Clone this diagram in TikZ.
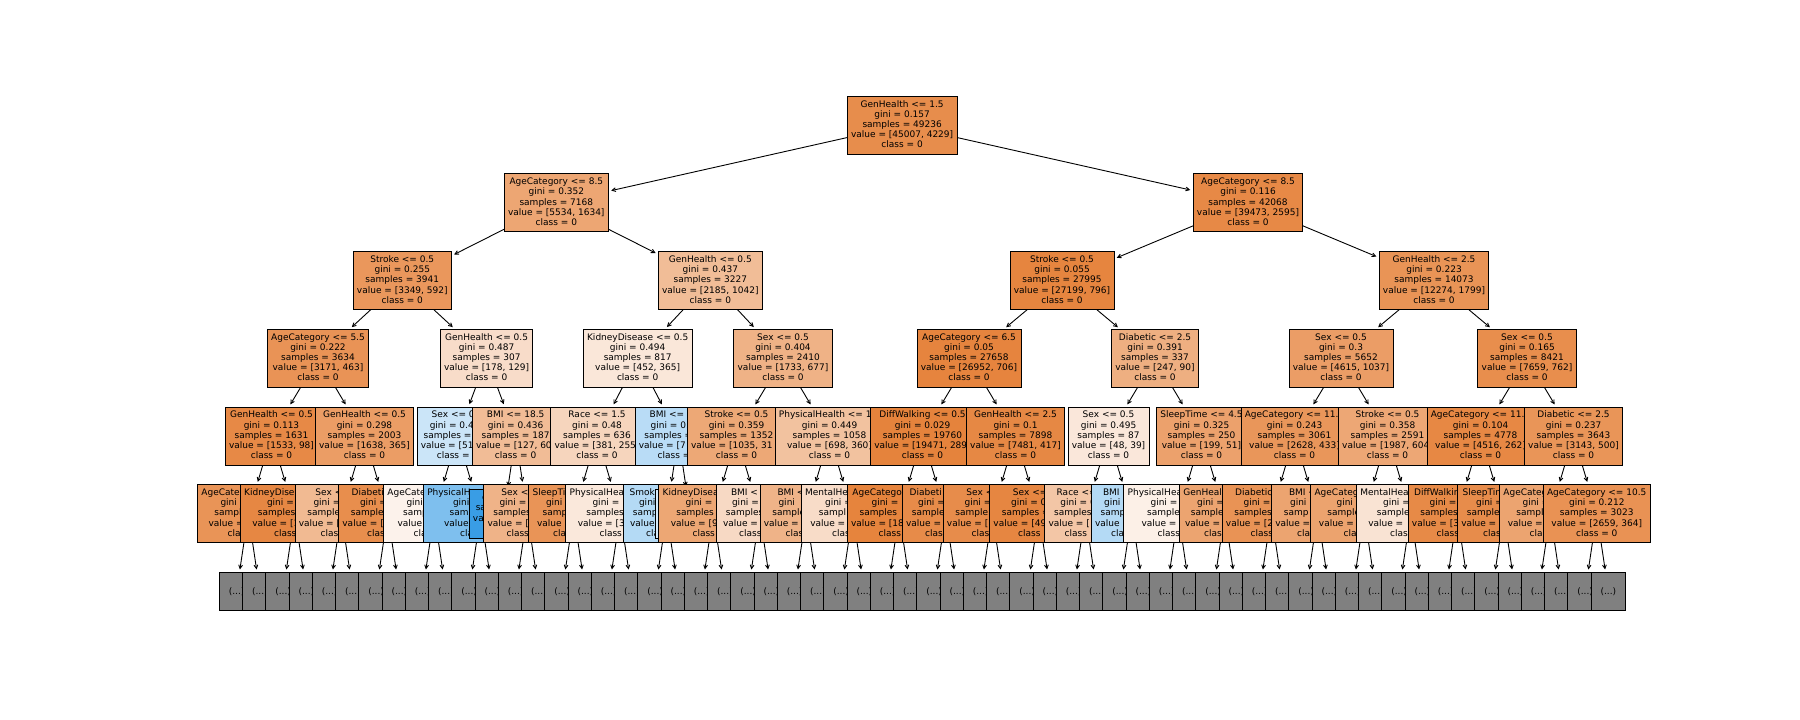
\documentclass[tikz,border=0pt]{standalone}
\usepackage{fontspec}
\setmainfont{DejaVu Sans}
\usetikzlibrary{arrows.meta}
\definecolor{orng}{RGB}{229,129,57}
\definecolor{blu}{RGB}{57,157,229}
\definecolor{grey5}{RGB}{128,128,128}
\newcommand{\hid}[1]{\phantom{#1}}
\newcommand{\fivel}[5]{\rule{0pt}{7pt}#1\\#2\\#3\\#4\\#5\rule[-2.6pt]{0pt}{2.6pt}}
\newcommand{\fourl}[4]{\rule{0pt}{7pt}#1\\#2\\#3\\#4\rule[-2.6pt]{0pt}{2.6pt}}
\newcommand{\ux}[1]{225+23.25*(#1)}
\tikzset{
  tn/.style={draw=black, line width=0.9pt, font=\fontsize{9}{10.2}\selectfont, align=center, inner xsep=3.8pt, inner ysep=0pt, minimum height=58pt},
  lfn/.style={tn, minimum height=48.5pt},
  gr/.style={draw=black, line width=0.9pt, fill=grey5, font=\fontsize{9}{10.2}\selectfont, inner sep=0pt, minimum width=34.6pt, minimum height=38pt},
  arr/.style={-{Straight Barb[length=3.6pt,width=3.8pt]}, line width=0.9pt, shorten >=2.5pt}
}
\begin{document}
\begin{tikzpicture}[x=1pt,y=-1pt]
\fill[white] (0,0) rectangle (1800,720);
\useasboundingbox (0,0) rectangle (1800,720);
% ---------- centre coordinates ----------
\coordinate (cr) at ({\ux{29.125}},125.2);
\coordinate (cd1) at ({\ux{14.25}},202.9);
\coordinate (cd2) at ({\ux{44}},202.9);
\coordinate (cc1) at ({\ux{7.625}},280.6);
\coordinate (cc2) at ({\ux{20.875}},280.6);
\coordinate (cc3) at ({\ux{36}},280.6);
\coordinate (cc4) at ({\ux{52}},280.6);
\coordinate (cb1) at ({\ux{4}},358.3);
\coordinate (cb2) at ({\ux{11.25}},358.3);
\coordinate (cb3) at ({\ux{17.75}},358.3);
\coordinate (cb4) at ({\ux{24}},358.3);
\coordinate (cb5) at ({\ux{32}},358.3);
\coordinate (cb6) at ({\ux{40}},358.3);
\coordinate (cb7) at ({\ux{48}},358.3);
\coordinate (cb8) at ({\ux{56}},358.3);
\coordinate (ca1) at ({\ux{2}},436);
\coordinate (ca2) at ({\ux{6}},436);
\coordinate (ca3) at ({\ux{10}},436);
\coordinate (ca4) at ({\ux{12.5}},436);
\coordinate (ca5) at ({\ux{16}},436);
\coordinate (ca6) at ({\ux{19.5}},436);
\coordinate (ca7) at ({\ux{22}},436);
\coordinate (ca8) at ({\ux{26}},436);
\coordinate (ca9) at ({\ux{30}},436);
\coordinate (ca10) at ({\ux{34}},436);
\coordinate (ca11) at ({\ux{38}},436);
\coordinate (ca12) at ({\ux{42}},436);
\coordinate (ca13) at ({\ux{46}},436);
\coordinate (ca14) at ({\ux{50}},436);
\coordinate (ca15) at ({\ux{54}},436);
\coordinate (ca16) at ({\ux{58}},436);
\foreach \k in {0,...,29}{\coordinate (ck\k) at ({\ux{2*\k+1}},513.7);}
\coordinate (cl1) at ({\ux{12}},513.7);
\coordinate (cl2) at ({\ux{20}},513.7);
% ---------- level 6 : truncated ----------
\foreach \i in {0,...,59}{
  \pgfmathtruncatemacro{\kk}{floor(\i/2)}
  \node[gr] (g\i) at ({\ux{\i+0.5}},591.4) {(...)};
  \draw[arr] (ck\kk) -- (g\i);
}
% ---------- level 5 ----------
\node[tn,fill=orng!85,minimum width=102pt] (k0) at (ck0) {\fivel{AgeCate\hid{gory <= 4.5}}{gini\hid{ = 0.199}}{sampl\hid{es = 607}}{value =\hid{ [520, 87]}}{cla\hid{ss = 0}}};
\draw[arr] (ca1) -- (k0);
\node[tn,fill=orng!95,minimum width=108pt] (k1) at (ck1) {\fivel{KidneyDise\hid{ase <= 0.5}}{gini =\hid{ 0.025}}{samples\hid{ = 1024}}{value = [1\hid{013, 11]}}{class\hid{ = 0}}};
\draw[arr] (ca1) -- (k1);
\node[tn,fill=orng!55,minimum width=92pt] (k2) at (ck2) {\fivel{Sex <\hid{= 0.5}}{gini =\hid{ 0.428}}{sample\hid{s = 580}}{value = [\hid{400, 180]}}{clas\hid{s = 0}}};
\draw[arr] (ca2) -- (k2);
\node[tn,fill=orng!90,minimum width=98pt] (k3) at (ck3) {\fivel{Diabeti\hid{c <= 0.5}}{gini =\hid{ 0.226}}{sample\hid{s = 1423}}{value = [\hid{1238, 185]}}{clas\hid{s = 0}}};
\draw[arr] (ca2) -- (k3);
\node[tn,fill=orng!10,minimum width=102pt] (k4) at (ck4) {\fivel{AgeCate\hid{gory <= 7.5}}{gini\hid{ = 0.499}}{samp\hid{les = 77}}{value\hid{ = [40, 37]}}{cla\hid{ss = 0}}};
\draw[arr] (ca3) -- (k4);
\node[tn,fill=blu!65,minimum width=115pt] (k5) at (ck5) {\fivel{PhysicalH\hid{ealth <= 13.5}}{gini\hid{ = 0.381}}{sam\hid{ples = 43}}{value =\hid{ [11, 32]}}{cla\hid{ss = 1}}};
\draw[arr] (ca3) -- (k5);
\node[lfn,fill=blu,minimum width=69.4pt] (l1) at (cl1) {\fourl{g\hid{ini = 0.0}}{sa\hid{mples = 9}}{va\hid{lue = [0, 9]}}{c\hid{lass = 1}}};
\draw[arr] (ca4) -- (l1);
\node[tn,fill=orng!60,minimum width=85pt] (k6) at (ck6) {\fivel{Sex <\hid{= 0.5}}{gini =\hid{ 0.409}}{samples\hid{ = 178}}{value = [\hid{127, 51]}}{class\hid{ = 0}}};
\draw[arr] (ca4) -- (k6);
\node[tn,fill=orng!85,minimum width=90pt] (k7) at (ck7) {\fivel{SleepTi\hid{me <= 7.5}}{gini\hid{ = 0.224}}{samp\hid{les = 95}}{value\hid{ = [81, 14]}}{cla\hid{ss = 0}}};
\draw[arr] (ca5) -- (k7);
\node[tn,fill=orng!18,minimum width=109pt] (k8) at (ck8) {\fivel{PhysicalHea\hid{lth <= 1.5}}{gini =\hid{ 0.494}}{samples\hid{ = 541}}{value = [3\hid{00, 241]}}{class\hid{ = 0}}};
\draw[arr] (ca5) -- (k8);
\node[tn,fill=blu!38,minimum width=86pt] (k9) at (ck9) {\fivel{Smok\hid{ing <= 0.5}}{gini\hid{ = 0.473}}{samp\hid{les = 159}}{value\hid{ = [61, 98]}}{cla\hid{ss = 1}}};
\draw[arr] (ca6) -- (k9);
\node[lfn,fill=blu!20,minimum width=69.4pt] (l2) at (cl2) {};
\draw[arr] (ca6) -- (l2);
\node[tn,fill=orng!70,minimum width=109pt] (k10) at (ck10) {\fivel{KidneyDisea\hid{se <= 0.5}}{gini =\hid{ 0.340}}{samples\hid{ = 1240}}{value = [9\hid{70, 270]}}{class\hid{ = 0}}};
\draw[arr] (ca7) -- (k10);
\node[tn,fill=orng!30,minimum width=86pt] (k11) at (ck11) {\fivel{BMI <\hid{= 25.5}}{gini =\hid{ 0.477}}{samples\hid{ = 112}}{value = [\hid{65, 47]}}{class\hid{ = 0}}};
\draw[arr] (ca7) -- (k11);
\node[tn,fill=orng!60,minimum width=91pt] (k12) at (ck12) {\fivel{BMI <\hid{= 30.5}}{gini\hid{ = 0.408}}{sample\hid{s = 420}}{value =\hid{ [300, 120]}}{clas\hid{s = 0}}};
\draw[arr] (ca8) -- (k12);
\node[tn,fill=orng!28,minimum width=102pt] (k13) at (ck13) {\fivel{MentalHe\hid{alth <= 4.5}}{gini =\hid{ 0.469}}{sampl\hid{es = 638}}{value =\hid{ [398, 240]}}{clas\hid{s = 0}}};
\draw[arr] (ca8) -- (k13);
\node[tn,fill=orng!98,minimum width=103pt] (k14) at (ck14) {\fivel{AgeCatego\hid{ry <= 2.5}}{gini =\hid{ 0.026}}{samples\hid{ = 18945}}{value = [18\hid{702, 243]}}{class\hid{ = 0}}};
\draw[arr] (ca9) -- (k14);
\node[tn,fill=orng!92,minimum width=86pt] (k15) at (ck15) {\fivel{Diabeti\hid{c <= 1.5}}{gini =\hid{ 0.106}}{sample\hid{s = 815}}{value =\hid{ [769, 46]}}{clas\hid{s = 0}}};
\draw[arr] (ca9) -- (k15);
\node[tn,fill=orng!91,minimum width=98pt] (k16) at (ck16) {\fivel{Sex <\hid{= 0.5}}{gini =\hid{ 0.146}}{sample\hid{s = 2803}}{value = [\hid{2581, 222]}}{clas\hid{s = 0}}};
\draw[arr] (ca10) -- (k16);
\node[tn,fill=orng!96,minimum width=99pt] (k17) at (ck17) {\fivel{Sex <=\hid{ 0.5}}{gini = 0\hid{.073}}{samples =\hid{ 5095}}{value = [49\hid{00, 195]}}{class\hid{ = 0}}};
\draw[arr] (ca10) -- (k17);
\node[tn,fill=orng!45,minimum width=81pt] (k18) at (ck18) {\fivel{Race <=\hid{ 1.5}}{gini = 0\hid{.45}}{samples\hid{ = 59}}{value = [\hid{38, 21]}}{class\hid{ = 0}}};
\draw[arr] (ca11) -- (k18);
\node[tn,fill=blu!38,minimum width=81pt] (k19) at (ck19) {\fivel{BMI\hid{ <= 30.5}}{gini\hid{ = 0.459}}{samp\hid{les = 28}}{value\hid{ = [10, 18]}}{cla\hid{ss = 1}}};
\draw[arr] (ca11) -- (k19);
\node[tn,fill=orng!12,minimum width=110pt] (k20) at (ck20) {\fivel{PhysicalHea\hid{lth <= 1.5}}{gini =\hid{ 0.497}}{sample\hid{s = 83}}{value =\hid{ [45, 38]}}{class\hid{ = 0}}};
\draw[arr] (ca12) -- (k20);
\node[tn,fill=orng!72,minimum width=91pt] (k21) at (ck21) {\fivel{GenHeal\hid{th <= 3.5}}{gini =\hid{ 0.138}}{sample\hid{s = 167}}{value =\hid{ [154, 13]}}{clas\hid{s = 0}}};
\draw[arr] (ca12) -- (k21);
\node[tn,fill=orng!86,minimum width=98pt] (k22) at (ck22) {\fivel{Diabetic\hid{ <= 0.5}}{gini =\hid{ 0.245}}{samples\hid{ = 2400}}{value = [2\hid{100, 300]}}{class\hid{ = 0}}};
\draw[arr] (ca13) -- (k22);
\node[tn,fill=orng!72,minimum width=92pt] (k23) at (ck23) {\fivel{BMI <\hid{= 28.5}}{gini\hid{ = 0.321}}{samp\hid{les = 661}}{value =\hid{ [528, 133]}}{cla\hid{ss = 0}}};
\draw[arr] (ca13) -- (k23);
\node[tn,fill=orng!73,minimum width=108pt] (k24) at (ck24) {\fivel{AgeCateg\hid{ory <= 10.5}}{gini\hid{ = 0.331}}{sample\hid{s = 2150}}{value =\hid{ [1700, 450]}}{cla\hid{ss = 0}}};
\draw[arr] (ca14) -- (k24);
\node[tn,fill=orng!22,minimum width=109pt] (k25) at (ck25) {\fivel{MentalHea\hid{lth <= 12.5}}{gini =\hid{ 0.454}}{sample\hid{s = 441}}{value =\hid{ [287, 154]}}{class\hid{ = 0}}};
\draw[arr] (ca14) -- (k25);
\node[tn,fill=orng!93,minimum width=98pt] (k26) at (ck26) {\fivel{DiffWalkin\hid{g <= 0.5}}{gini =\hid{ 0.114}}{samples\hid{ = 3300}}{value = [3\hid{100, 200]}}{class\hid{ = 0}}};
\draw[arr] (ca15) -- (k26);
\node[tn,fill=orng!91,minimum width=92pt] (k27) at (ck27) {\fivel{SleepTim\hid{e <= 7.5}}{gini =\hid{ 0.080}}{sample\hid{s = 1478}}{value =\hid{ [1416, 62]}}{clas\hid{s = 0}}};
\draw[arr] (ca15) -- (k27);
\node[tn,fill=orng!72,minimum width=102pt] (k28) at (ck28) {\fivel{AgeCateg\hid{ory <= 9.5}}{gini =\hid{ 0.342}}{sampl\hid{es = 620}}{value =\hid{ [484, 136]}}{cla\hid{ss = 0}}};
\draw[arr] (ca16) -- (k28);
\node[tn,fill=orng!86.3] (k29) at (ck29) {\fivel{AgeCategory <= 10.5}{gini = 0.212}{samples = 3023}{value = [2659, 364]}{class = 0}};
\draw[arr] (ca16) -- (k29);
% ---------- level 4 ----------
\node[tn,fill=orng!93.6] (a1) at (ca1) {\fivel{GenHealth <= 0.5}{gini = 0.113}{samples = 1631}{value = [1533, 98]}{class = 0}};
\draw[arr] (cb1) -- (a1);
\node[tn,fill=orng!77.7] (a2) at (ca2) {\fivel{GenHealth <= 0.5}{gini = 0.298}{samples = 2003}{value = [1638, 365]}{class = 0}};
\draw[arr] (cb1) -- (a2);
\node[tn,fill=blu!26.1] (a3) at (ca3) {\fivel{Sex <= 0\hid{.5}}{gini = 0.4\hid{89}}{samples =\hid{ 120}}{value = [51\hid{, 69]}}{class =\hid{ 1}}};
\draw[arr] (cb2) -- (a3);
\node[tn,fill=orng!52.8] (a4) at (ca4) {\fivel{BMI <= 18.5}{gini = 0.436}{samples = 187}{value = [127, 60\hid{]}}{class = 0}};
\draw[arr] (cb2) -- (a4);
\node[tn,fill=orng!33.1] (a5) at (ca5) {\fivel{Race <= 1.5}{gini = 0.48}{samples = 636}{value = [381, 255\hid{]}}{class = 0}};
\draw[arr] (cb3) -- (a5);
\node[tn,fill=blu!35.5] (a6) at (ca6) {\fivel{BMI <=\hid{ 27.5}}{gini = 0.\hid{477}}{samples =\hid{ 181}}{value = [7\hid{1, 110]}}{class =\hid{ 1}}};
\draw[arr] (cb3) -- (a6);
\node[tn,fill=orng!69.4] (a7) at (ca7) {\fivel{Stroke <= 0.5}{gini = 0.359}{samples = 1352}{value = [1035, 31\hid{7]}}{class = 0}};
\draw[arr] (cb4) -- (a7);
\node[tn,fill=orng!48.4] (a8) at (ca8) {\fivel{PhysicalHealth <= 1\hid{.5}}{gini = 0.449}{samples = 1058}{value = [698, 360]}{class = 0}};
\draw[arr] (cb4) -- (a8);
\node[tn,fill=orng!98.5] (a9) at (ca9) {\fivel{DiffWalking <= 0.5}{gini = 0.029}{samples = 19760}{value = [19471, 289\hid{]}}{class = 0}};
\draw[arr] (cb5) -- (a9);
\node[tn,fill=orng!94.4] (a10) at (ca10) {\fivel{GenHealth <= 2.5}{gini = 0.1}{samples = 7898}{value = [7481, 417]}{class = 0}};
\draw[arr] (cb5) -- (a10);
\node[tn,fill=orng!18.75] (a11) at (ca11) {\fivel{Sex <= 0.5}{gini = 0.495}{samples = 87}{value = [48, 39]}{class = 0}};
\draw[arr] (cb6) -- (a11);
\node[tn,fill=orng!74.4] (a12) at (ca12) {\fivel{SleepTime <= 4.5}{gini = 0.325}{samples = 250}{value = [199, 51]}{class = 0}};
\draw[arr] (cb6) -- (a12);
\node[tn,fill=orng!83.5] (a13) at (ca13) {\fivel{AgeCategory <= 11.\hid{5}}{gini = 0.243}{samples = 3061}{value = [2628, 433]}{class = 0}};
\draw[arr] (cb7) -- (a13);
\node[tn,fill=orng!69.6] (a14) at (ca14) {\fivel{Stroke <= 0.5}{gini = 0.358}{samples = 2591}{value = [1987, 604\hid{]}}{class = 0}};
\draw[arr] (cb7) -- (a14);
\node[tn,fill=orng!94.2] (a15) at (ca15) {\fivel{AgeCategory <= 11.\hid{5}}{gini = 0.104}{samples = 4778}{value = [4516, 262]}{class = 0}};
\draw[arr] (cb8) -- (a15);
\node[tn,fill=orng!84.1] (a16) at (ca16) {\fivel{Diabetic <= 2.5}{gini = 0.237}{samples = 3643}{value = [3143, 500]}{class = 0}};
\draw[arr] (cb8) -- (a16);
% ---------- level 3 ----------
\node[tn,fill=orng!85.4] (b1) at (cb1) {\fivel{AgeCategory <= 5.5}{gini = 0.222}{samples = 3634}{value = [3171, 463]}{class = 0}};
\draw[arr] (cc1) -- (b1);
\node[tn,fill=orng!27.5] (b2) at (cb2) {\fivel{GenHealth <= 0.5}{gini = 0.487}{samples = 307}{value = [178, 129]}{class = 0}};
\draw[arr] (cc1) -- (b2);
\node[tn,fill=orng!19.2] (b3) at (cb3) {\fivel{KidneyDisease <= 0.5}{gini = 0.494}{samples = 817}{value = [452, 365]}{class = 0}};
\draw[arr] (cc2) -- (b3);
\node[tn,fill=orng!60.9] (b4) at (cb4) {\fivel{Sex <= 0.5}{gini = 0.404}{samples = 2410}{value = [1733, 677]}{class = 0}};
\draw[arr] (cc2) -- (b4);
\node[tn,fill=orng!97.4] (b5) at (cb5) {\fivel{AgeCategory <= 6.5}{gini = 0.05}{samples = 27658}{value = [26952, 706]}{class = 0}};
\draw[arr] (cc3) -- (b5);
\node[tn,fill=orng!63.6] (b6) at (cb6) {\fivel{Diabetic <= 2.5}{gini = 0.391}{samples = 337}{value = [247, 90]}{class = 0}};
\draw[arr] (cc3) -- (b6);
\node[tn,fill=orng!77.5] (b7) at (cb7) {\fivel{Sex <= 0.5}{gini = 0.3}{samples = 5652}{value = [4615, 1037]}{class = 0}};
\draw[arr] (cc4) -- (b7);
\node[tn,fill=orng!90] (b8) at (cb8) {\fivel{Sex <= 0.5}{gini = 0.165}{samples = 8421}{value = [7659, 762]}{class = 0}};
\draw[arr] (cc4) -- (b8);
% ---------- level 2 ----------
\node[tn,fill=orng!82.3] (c1) at (cc1) {\fivel{Stroke <= 0.5}{gini = 0.255}{samples = 3941}{value = [3349, 592]}{class = 0}};
\draw[arr] (cd1) -- (c1);
\node[tn,fill=orng!52.3] (c2) at (cc2) {\fivel{GenHealth <= 0.5}{gini = 0.437}{samples = 3227}{value = [2185, 1042]}{class = 0}};
\draw[arr] (cd1) -- (c2);
\node[tn,fill=orng!97.1] (c3) at (cc3) {\fivel{Stroke <= 0.5}{gini = 0.055}{samples = 27995}{value = [27199, 796]}{class = 0}};
\draw[arr] (cd2) -- (c3);
\node[tn,fill=orng!85.3] (c4) at (cc4) {\fivel{GenHealth <= 2.5}{gini = 0.223}{samples = 14073}{value = [12274, 1799]}{class = 0}};
\draw[arr] (cd2) -- (c4);
% ---------- level 1 ----------
\node[tn,fill=orng!70.5] (d1) at (cd1) {\fivel{AgeCategory <= 8.5}{gini = 0.352}{samples = 7168}{value = [5534, 1634]}{class = 0}};
\draw[arr] (cr) -- (d1);
\node[tn,fill=orng!93.4] (d2) at (cd2) {\fivel{AgeCategory <= 8.5}{gini = 0.116}{samples = 42068}{value = [39473, 2595]}{class = 0}};
\draw[arr] (cr) -- (d2);
% ---------- root ----------
\node[tn,fill=orng!90.6] (r) at (cr) {\fivel{GenHealth <= 1.5}{gini = 0.157}{samples = 49236}{value = [45007, 4229]}{class = 0}};
\end{tikzpicture}
\end{document}
